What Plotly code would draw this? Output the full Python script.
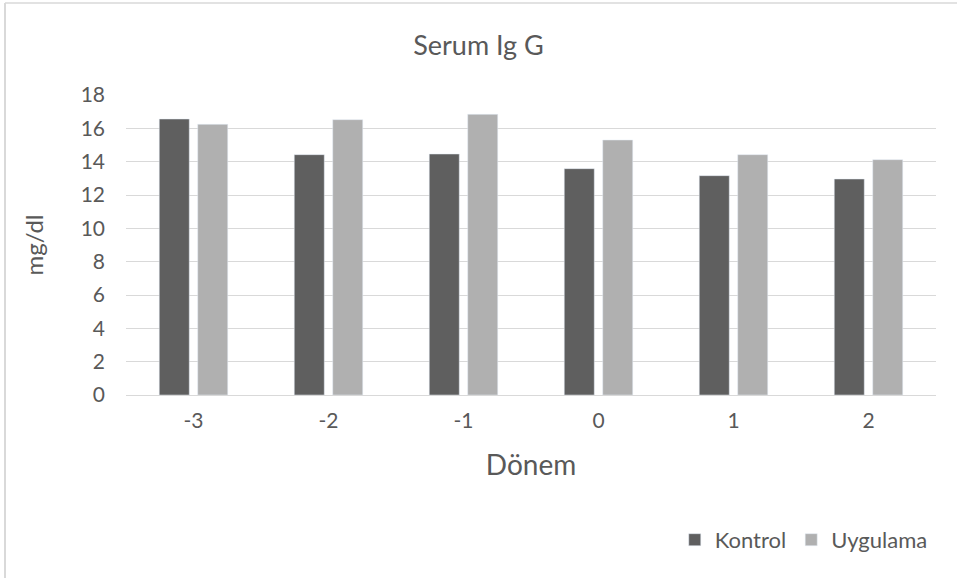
import plotly.graph_objects as go

categories = ["-3", "-2", "-1", "0", "1", "2"]
kontrol = [16.56, 14.42, 14.46, 13.58, 13.16, 12.96]
uygulama = [16.24, 16.52, 16.84, 15.30, 14.42, 14.12]
y_ticks = [0, 2, 4, 6, 8, 10, 12, 14, 16, 18]

FONT = "Lato"
TXT = "#595959"
BORDER = "#d9d9d9"

fig = go.Figure()
fig.add_trace(go.Bar(name="Kontrol", x=categories, y=kontrol, marker_color="#5f5f5f"))
fig.add_trace(go.Bar(name="Uygulama", x=categories, y=uygulama, marker_color="#b0b0b0"))

fig.update_layout(
    width=957, height=578,
    margin=dict(l=126, r=21, t=95, b=183),
    paper_bgcolor="white", plot_bgcolor="white",
    barmode="group", bargap=0.43, bargroupgap=0.22,
    font=dict(family=FONT, color=TXT, size=20),
    title=dict(text="Serum Ig G", x=0.5, xanchor="center", y=0.922, yanchor="middle",
               font=dict(size=27, color=TXT, family=FONT)),
    showlegend=True,
    legend=dict(orientation="h", x=0.996, xanchor="right", y=-0.483, yanchor="middle",
                font=dict(size=22, color=TXT, family=FONT), traceorder="normal",
                itemwidth=30),
    xaxis=dict(type="category", showgrid=False, showline=True, linecolor=BORDER, linewidth=1,
               ticks="", tickfont=dict(size=21, color=TXT), ticklabelstandoff=7,
               title=dict(text="Dönem", font=dict(size=28, color=TXT), standoff=24)),
    yaxis=dict(range=[0, 18], tickvals=y_ticks, showgrid=True, gridcolor=BORDER, gridwidth=1,
               zeroline=False, showline=False, ticks="", ticklabelstandoff=20,
               tickfont=dict(size=21, color=TXT),
               title=dict(text="mg/dl", font=dict(size=24, color=TXT), standoff=30)),
    shapes=[
        dict(type="line", xref="paper", yref="paper", x0=-0.1494, x1=-0.1494, y0=1.3067, y1=-0.62,
             line=dict(color=BORDER, width=2)),
        dict(type="line", xref="paper", yref="paper", x0=-0.1494, x1=1.03, y0=1.3067, y1=1.3067,
             line=dict(color=BORDER, width=1.5)),
    ],
)

fig.write_html("out.html", config={"displayModeBar": False},
               post_script="document.body.style.margin='0';")
